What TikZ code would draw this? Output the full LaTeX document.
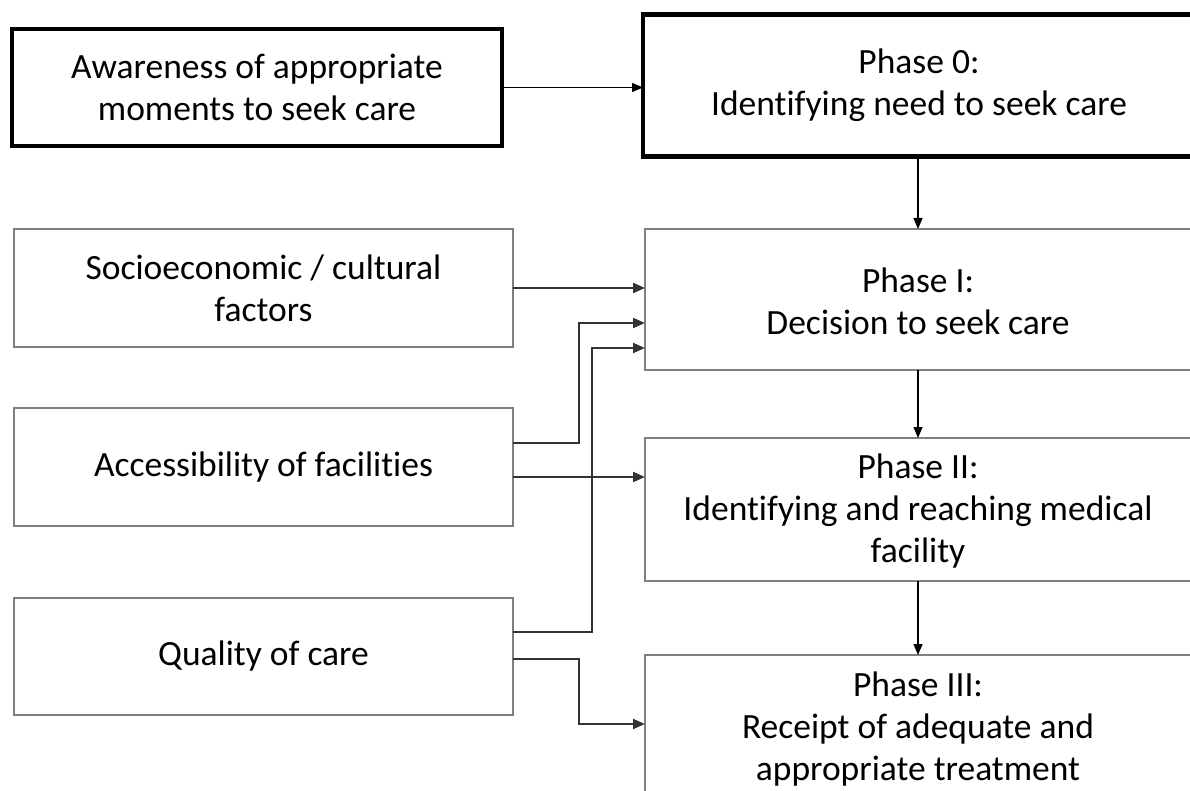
\documentclass[tikz,border=0pt]{standalone}
\usepackage{fontspec}
\setmainfont[Ligatures=NoCommon]{Carlito}
\usetikzlibrary{arrows.meta}
\begin{document}
\begin{tikzpicture}[x=1pt,y=-1pt,
  every node/.style={font=\fontsize{35.5}{42}\selectfont, align=center, inner sep=0pt, outer sep=0pt},
  thickbox/.style={draw=black, line width=4.5pt, rectangle},
  graybox/.style={draw=black!50, line width=2.2pt, rectangle, fill=white},
  thinarrow/.style={draw=black, line width=1.2pt, -{Triangle[length=11pt,width=9pt]}},
  conn/.style={draw=black!80, line width=2.2pt, -{Triangle[length=12pt,width=10pt]}}]
\useasboundingbox (0,0) rectangle (1190,791);
\clip (0,0) rectangle (1190,791);
% top row
\node[thickbox, minimum width=490pt, minimum height=117pt] (aw) at (257,87.5)
  {Awareness of appropriate\\moments to seek care};
\node[thickbox, minimum width=560pt, minimum height=142pt] (p0) at (923,85.5) {};
\node at (919,85.5) {Phase 0:\\Identifying need to seek care};
% left boxes
\node[graybox, minimum width=499pt, minimum height=118pt] (soc) at (263.5,288)
  {Socioeconomic / cultural\\factors};
\node[graybox, minimum width=499pt, minimum height=118pt] (acc) at (263.5,467)
  {Accessibility of facilities};
\node[graybox, minimum width=499pt, minimum height=117pt] (qual) at (263.5,656.5)
  {Quality of care};
% right boxes
\node[graybox, minimum width=560pt, minimum height=141pt] (p1) at (925,299.5) {};
\node at (918,301) {Phase I:\\Decision to seek care};
\node[graybox, minimum width=560pt, minimum height=143pt] (p2) at (925,509.5) {};
\node at (918,511) {Phase II:\\Identifying and reaching medical\\facility};
\node[graybox, minimum width=560pt, minimum height=146pt] (p3) at (925,728) {};
\node at (918,729) {Phase III:\\Receipt of adequate and\\appropriate treatment};
% main arrows
\draw[thinarrow] (aw.east) -- (p0.west |- aw.east);
\draw[thinarrow] (p0.south -| 918,0) -- (p1.north -| 918,0);
\draw[thinarrow] (p1.south -| 918,0) -- (p2.north -| 918,0);
\draw[thinarrow] (p2.south -| 918,0) -- (p3.north -| 918,0);
% factor connectors
\draw[conn] (soc.east) -- (p1.west |- soc.east);
\draw[conn] (acc.east |- 0,443) -| (579,323) -- (p1.west |- 0,323);
\draw[conn] (acc.east |- 0,477) -- (p2.west |- 0,477);
\draw[conn] (qual.east |- 0,632) -| (592,348) -- (p1.west |- 0,348);
\draw[conn] (qual.east |- 0,659) -| (579,724) -- (p3.west |- 0,724);
\end{tikzpicture}
\end{document}
